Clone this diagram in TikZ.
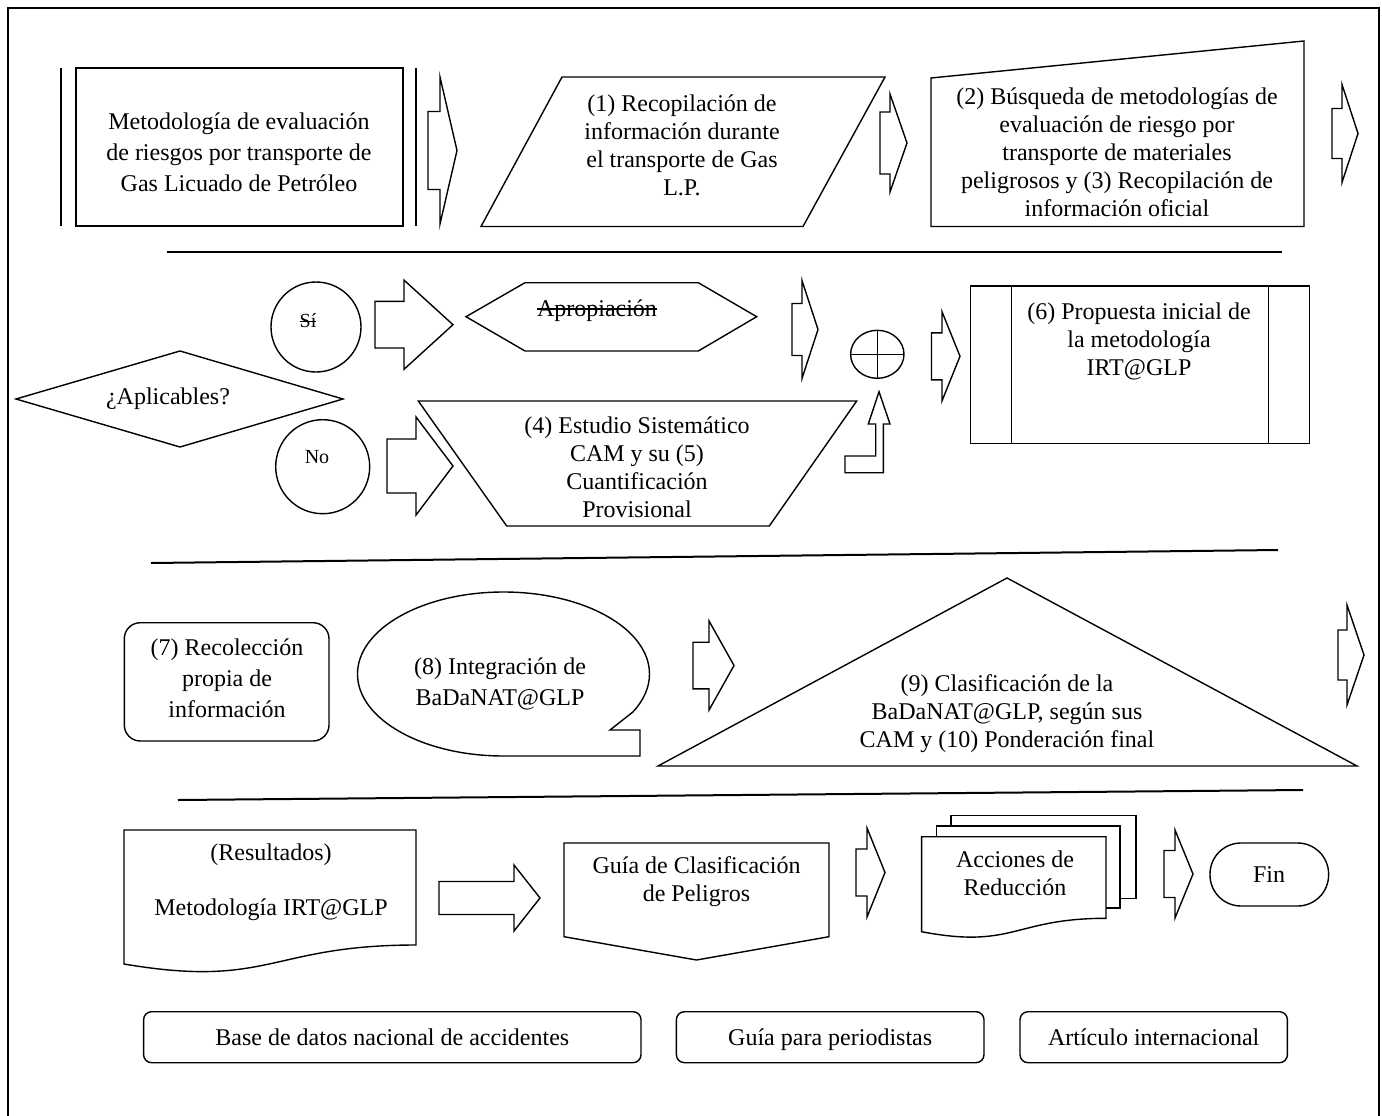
\documentclass[tikz,border=0pt]{standalone}
\usepackage{fontspec}
\setmainfont{Liberation Serif}
\newcommand{\strikeout}[1]{\setbox0\hbox{#1}\rlap{\rule[0.3em]{\wd0}{0.06em}}\box0}
\tikzset{
  shp/.style={draw, line width=1.4pt, line join=miter, fill=white},
  txt/.style={font=\fontsize{24}{28}\selectfont, align=center, inner sep=0pt},
  widetxt/.style={font=\fontsize{24}{31}\selectfont, align=center, inner sep=0pt},
  smalltxt/.style={font=\fontsize{20}{24}\selectfont, align=center, inner sep=0pt},
  sepline/.style={line width=2pt},
}
% shaft-left, head-base, tip, centre y, shaft half height, head half height
\newcommand{\barrow}[6]{%
  \draw[shp] (#1,#4-#5) -- (#2,#4-#5) -- (#2,#4-#6) -- (#3,#4) -- (#2,#4+#6) -- (#2,#4+#5) -- (#1,#4+#5) -- cycle;}
\begin{document}
\begin{tikzpicture}[x=1pt,y=-1pt]
\useasboundingbox (0,0) rectangle (1382,1116);
\fill[white] (0,0) rectangle (1382,1116);
% frame
\draw[line width=2pt] (8,1118) -- (8,8) -- (1379,8) -- (1379,1118);

% ---------- row 1
\draw[shp] (76,68) rectangle (403,226);
\draw[line width=1.4pt] (61,68) -- (61,226);
\draw[line width=1.4pt] (416,68) -- (416,226);
\node[widetxt] (t0) at (239,152) {Metodología de evaluación\\de riesgos por transporte de\\Gas Licuado de Petróleo};
\barrow{428}{440}{457}{150.5}{39}{73.5}

\draw[shp] (562,77) -- (885,77) -- (803,226.5) -- (481,226.5) -- cycle;
\node[txt] (t1) at (682,145) {(1) Recopilación de\\información durante\\el transporte de Gas\\L.P.};
\barrow{880}{890}{907}{143}{31}{49}

\draw[shp] (931,78) -- (1304,41) -- (1304,226.5) -- (931,226.5) -- cycle;
\node[txt] (t2) at (1117,152) {(2) Búsqueda de metodologías de\\evaluación de riesgo por\\transporte de materiales\\peligrosos y (3) Recopilación de\\información oficial};
\barrow{1332}{1342}{1358}{133.5}{25}{49}

\draw[sepline] (167,252) -- (1282,252);

% ---------- row 2
\draw[shp] (16,399) -- (180,351) -- (343,399) -- (180,447) -- cycle;
\node[txt] (q) at (168,399) {¿Aplicables?};
\draw[shp] (316,327) circle[radius=45];
\node[smalltxt] (si) at (308,321) {\strikeout{Sí}};
\draw[shp] (322.7,466.7) circle[radius=47];
\node[smalltxt] (no) at (317,457) {No};
\barrow{375}{404}{453}{324.7}{23.3}{44.6}
\barrow{387}{416}{453}{466}{27}{49}

\draw[shp] (466,316.7) -- (525,282.7) -- (698.3,282.7) -- (756.7,316.7) -- (698.3,351) -- (525,351) -- cycle;
\node[txt] (apr) at (597,311) {\strikeout{Apropiación}};
\draw[shp] (418.3,401) -- (856.7,401) -- (769.3,526) -- (506.7,526) -- cycle;
\node[txt] (t4) at (637,467) {(4) Estudio Sistemático\\CAM y su (5)\\Cuantificación\\Provisional};

\barrow{792}{802}{818}{329.5}{26}{49}
\draw[shp] (877.3,354.3) ellipse[x radius=26.7, y radius=24];
\draw[line width=1.4pt] (850.6,354.3) -- (904,354.3);
\draw[line width=1.4pt] (877.3,330.3) -- (877.3,378.3);
\draw[shp] (845,456) -- (875.7,456) -- (875.7,424) -- (868.3,424) -- (879,391.7) -- (890,424) -- (883.3,424) -- (883.3,472.7) -- (845,472.7) -- cycle;
\barrow{931.5}{942}{960}{356.3}{23.5}{44.6}

\draw[shp] (970.7,286) rectangle (1309.3,443.3);
\draw[line width=1.4pt] (1011.7,286) -- (1011.7,443.3);
\draw[line width=1.4pt] (1268.3,286) -- (1268.3,443.3);
\node[txt] (t6) at (1139,341) {(6) Propuesta inicial de\\la metodología\\IRT@GLP};

\draw[sepline] (151,563) -- (1278,550);

% ---------- row 3
\draw[shp, rounded corners=16] (124.3,622.7) rectangle (329,741);
\node[widetxt] (t7) at (227,678) {(7) Recolección\\propia de\\información};
\draw[shp] (503.5,756) arc[start angle=90, end angle=387.6, x radius=146, y radius=82] -- (610,730) -- (640,730) -- (640,756) -- cycle;
\node[widetxt] (t8) at (500,684) {(8) Integración de\\BaDaNAT@GLP};
\barrow{693}{709}{734}{665.5}{23.3}{44.6}
\draw[shp] (658,766) -- (1007,578) -- (1357,766) -- cycle;
\node[txt] (t9) at (1007,714) {(9) Clasificación de la\\BaDaNAT@GLP, según sus\\CAM y (10) Ponderación final};
\barrow{1338}{1347}{1364}{655}{25}{50}

\draw[sepline] (178,800) -- (1303,790);

% ---------- row 4
\draw[shp] (124,830) -- (416,830) -- (416,945) .. controls (270,945) and (270,988.8) .. (124,964) -- cycle;
\node[txt] (tr) at (271,882) {(Resultados)\\[27pt]Metodología IRT@GLP};
\barrow{439}{514}{540}{898}{16.5}{33}
\draw[shp] (564,843) -- (829,843) -- (829,936.7) -- (696.5,960) -- (564,936.7) -- cycle;
\node[txt] (tg) at (696.5,882) {Guía de Clasificación\\de Peligros};
\barrow{856}{867}{885}{872.5}{23.5}{44.5}
\draw[shp] (951,815.7) rectangle (1136,898.3);
\draw[shp] (936.7,826) rectangle (1120,908);
\draw[shp] (921.6,836.7) -- (1106,836.7) -- (1106,918.3) .. controls (1013.8,918.3) and (1013.8,949.3) .. (921.6,931.7) -- cycle;
\node[txt] (ta) at (1015,873) {Acciones de\\Reducción};
\barrow{1164}{1175}{1193}{874}{23.5}{44}
\draw[shp, rounded corners=31] (1210,843) rectangle (1328.6,906);
\node[txt] (fin) at (1269,875) {Fin};

\draw[shp, rounded corners=8] (143.6,1011.7) rectangle (641,1062.7);
\node[txt, anchor=base] (b1) at (392.3,1045) {Base de datos nacional de accidentes};
\draw[shp, rounded corners=8] (676.4,1011.7) rectangle (984,1062.7);
\node[txt, anchor=base] (b2) at (830.2,1045) {Guía para periodistas};
\draw[shp, rounded corners=8] (1020,1011.7) rectangle (1287.4,1062.7);
\node[txt, anchor=base] (b3) at (1153.7,1045) {Artículo internacional};
\end{tikzpicture}
\end{document}
